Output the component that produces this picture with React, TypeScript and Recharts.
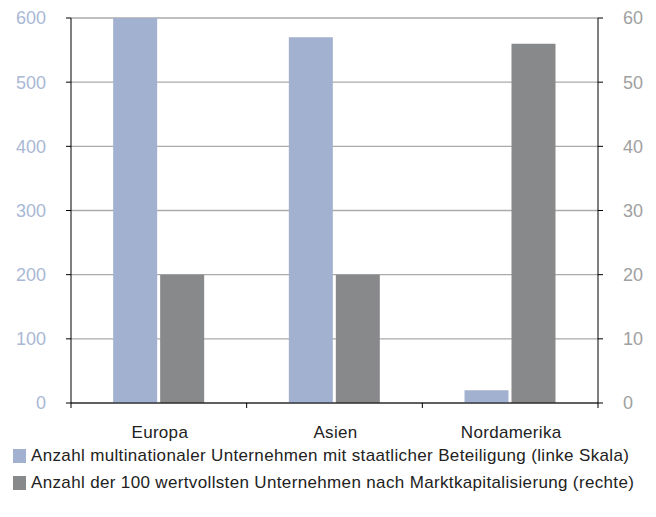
import { Bar, BarChart, CartesianGrid, XAxis, YAxis } from 'recharts';

const regions = ['Europa', 'Asien', 'Nordamerika'];
const stateOwned = [600, 570, 20];
const topHundred = [20, 20, 56];
const leftTicks = [0, 100, 200, 300, 400, 500, 600];
const rightTicks = [0, 10, 20, 30, 40, 50, 60];

const legendLabels = [
  'Anzahl multinationaler Unternehmen mit staatlicher Beteiligung (linke Skala)',
  'Anzahl der 100 wertvollsten Unternehmen nach Marktkapitalisierung (rechte)',
];

const BLUE = '#a2b1cf';
const GREY = '#88898b';
const FONT = '"Liberation Sans", Arial, sans-serif';

const WIDTH = 656;
const HEIGHT = 460;
const LEFT_W = 71;
const RIGHT_W = 58;
const BAND = (WIDTH - LEFT_W - RIGHT_W) / regions.length;

const data = regions.map((region, i) => ({
  region,
  stateOwned: stateOwned[i],
  topHundred: topHundred[i],
}));

function CategoryTick(props: any) {
  const { x, y, payload, index } = props;
  const left = x - BAND / 2;
  return (
    <g>
      <line x1={left} x2={left} y1={y} y2={y + 5} stroke="#000" />
      {index === regions.length - 1 && (
        <line x1={x + BAND / 2} x2={x + BAND / 2} y1={y} y2={y + 5} stroke="#000" />
      )}
      <text
        x={x + 1}
        y={y + 35}
        textAnchor="middle"
        fill="#222"
        fontSize={17}
        letterSpacing={0.3}
        fontFamily={FONT}
      >
        {payload.value}
      </text>
    </g>
  );
}

export default function App() {
  return (
    <div style={{ position: 'absolute', left: 0, top: 0, width: WIDTH, height: 517, background: '#fff' }}>
      <BarChart
        width={WIDTH}
        height={HEIGHT}
        data={data}
        margin={{ top: 18, right: 0, left: 0, bottom: 20 }}
        barCategoryGap="24%"
        barGap={3}
      >
        <CartesianGrid yAxisId="left" vertical={false} stroke="#aaaaaa" strokeWidth={1.3} />
        <XAxis
          dataKey="region"
          height={37}
          axisLine={{ stroke: '#000' }}
          tickLine={false}
          tickSize={0}
          tickMargin={0}
          tick={<CategoryTick />}
          interval={0}
        />
        <YAxis
          yAxisId="left"
          orientation="left"
          width={LEFT_W}
          domain={[0, 600]}
          ticks={leftTicks}
          axisLine={{ stroke: '#000' }}
          tickLine={{ stroke: '#000' }}
          tickSize={5}
          tickMargin={20}
          tick={{ fill: '#a9b8d5', fontSize: 18, fontFamily: FONT }}
        />
        <YAxis
          yAxisId="right"
          orientation="right"
          width={RIGHT_W}
          domain={[0, 60]}
          ticks={rightTicks}
          axisLine={{ stroke: '#000' }}
          tickLine={{ stroke: '#000' }}
          tickSize={5}
          tickMargin={20}
          tick={{ fill: '#a0a0a0', fontSize: 18, fontFamily: FONT }}
        />
        <Bar yAxisId="left" dataKey="stateOwned" fill={BLUE} isAnimationActive={false} />
        <Bar yAxisId="right" dataKey="topHundred" fill={GREY} isAnimationActive={false} />
      </BarChart>
      <div
        style={{
          position: 'absolute',
          left: 13,
          top: 442,
          fontFamily: FONT,
          fontSize: 17,
          letterSpacing: 0.35,
          color: '#222',
          whiteSpace: 'nowrap',
        }}
      >
        {legendLabels.map((label, i) => (
          <div key={label} style={{ display: 'flex', alignItems: 'center', height: 27 }}>
            <span
              style={{
                display: 'inline-block',
                width: 13,
                height: 14,
                background: i === 0 ? BLUE : GREY,
                marginRight: 5,
              }}
            />
            {label}
          </div>
        ))}
      </div>
    </div>
  );
}
